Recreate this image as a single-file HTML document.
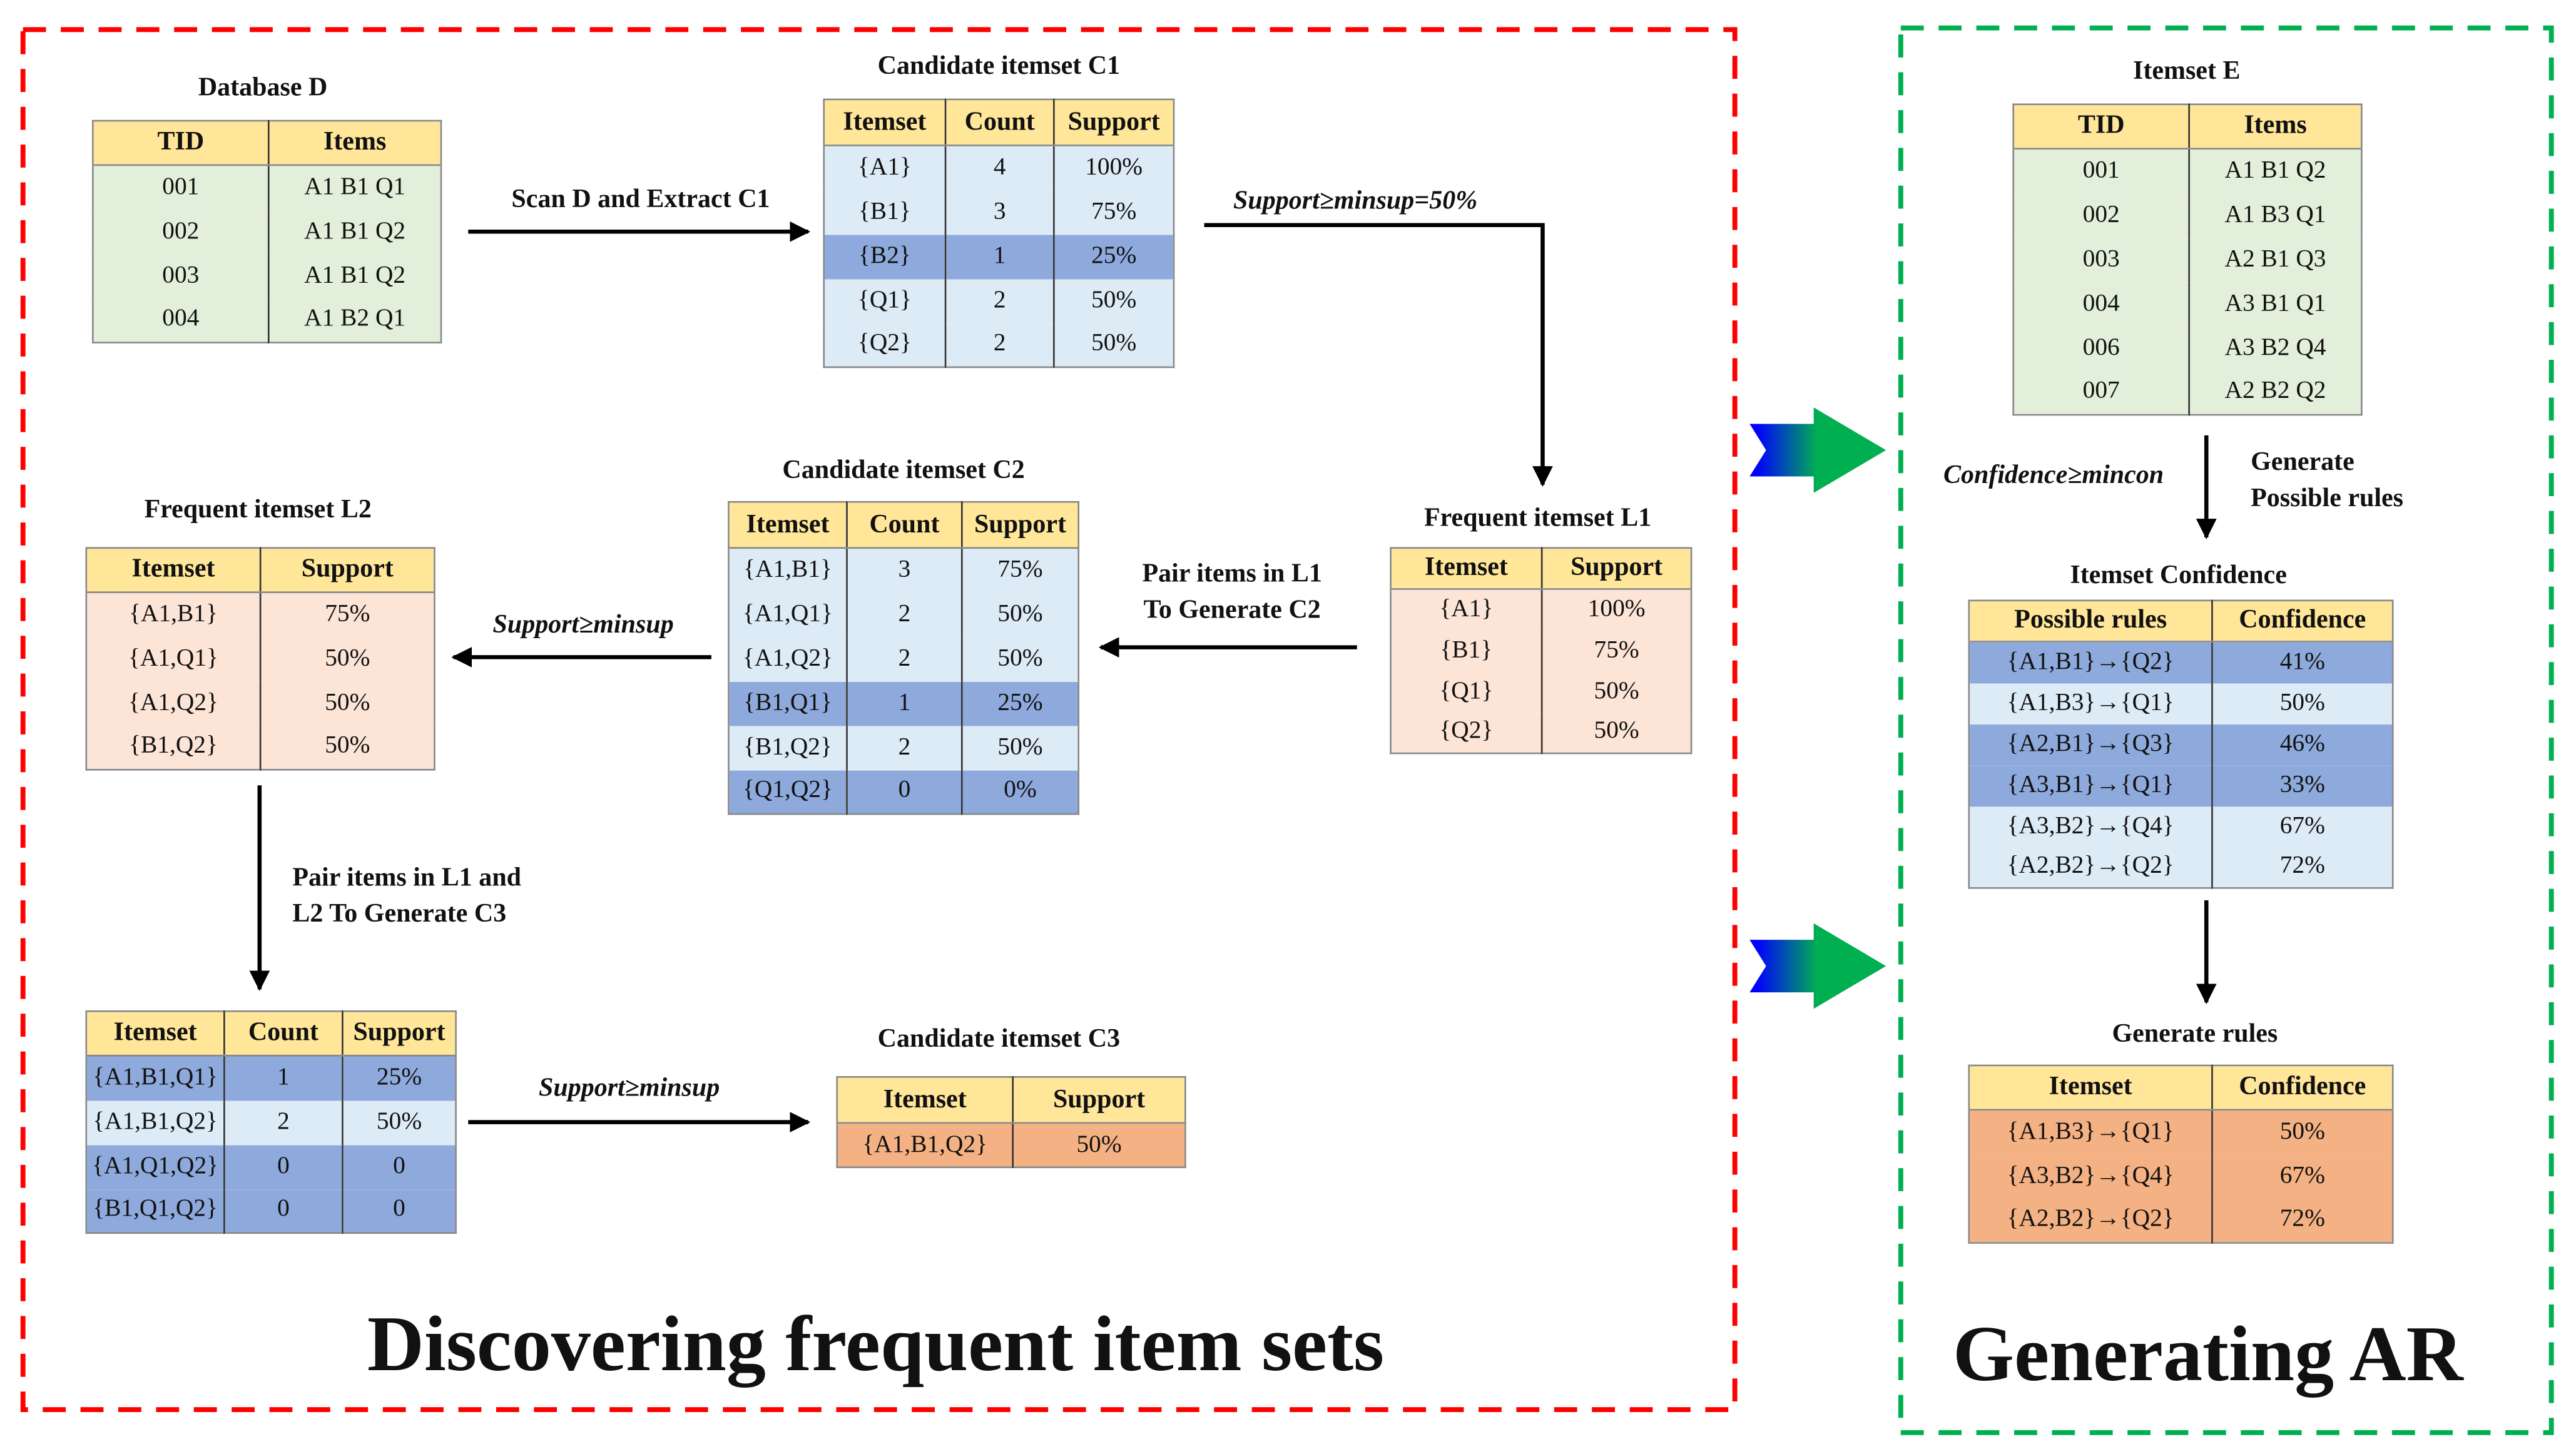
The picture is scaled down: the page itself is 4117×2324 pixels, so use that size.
<!DOCTYPE html>
<html><head><meta charset="utf-8"><style>
html,body{margin:0;padding:0;background:#fff;}
#wrap{position:relative;width:4117px;height:2324px;overflow:hidden;}
#s{position:absolute;left:0;top:0;width:1568px;height:885px;transform:scale(2.62564,2.62599);transform-origin:0 0;font-family:"Liberation Serif",serif;color:#111;}
table{position:absolute;border-collapse:collapse;table-layout:fixed;font-size:15px;border:1.5px solid #888;}
td{text-align:center;padding:0;border-left:1px solid #333;white-space:nowrap;overflow:hidden;}
td:first-child{border-left:none;}
tr.h td{background:#FFE699;font-weight:bold;font-size:16px;border-bottom:1.5px solid #888;}
.g td{background:#E2EFDA}.l td{background:#DDEBF7}.d td{background:#8EA9DB}.p td{background:#FCE4D6}.o td{background:#F4B183}
.t{position:absolute;font-weight:bold;font-size:16px;white-space:nowrap;transform:translate(-50%,2px);}
.i{font-style:italic;}
</style></head><body><div id="wrap"><div id="s">
<svg width="1568" height="885" style="position:absolute;left:0;top:0">
<defs>
<marker id="a" viewBox="0 0 10 10" refX="9" refY="5" markerWidth="5" markerHeight="5" orient="auto"><path d="M0,0L10,5L0,10z" fill="#000"/></marker>
<linearGradient id="gr" x1="0" x2="1" y1="0" y2="0"><stop offset="0.05" stop-color="#0000ff"/><stop offset="0.5" stop-color="#00b050"/></linearGradient>
</defs>
<rect x="14" y="18" width="1042" height="840" fill="none" stroke="#f00" stroke-width="3" stroke-dasharray="14,9"/>
<rect x="1157" y="17" width="396" height="855" fill="none" stroke="#00b050" stroke-width="3" stroke-dasharray="14,9"/>
<g stroke="#000" stroke-width="2.5" fill="none" marker-end="url(#a)">
<line x1="285" y1="141" x2="492" y2="141"/>
<polyline points="733,137 939,137 939,295"/>
<line x1="826" y1="394" x2="670" y2="394"/>
<line x1="433" y1="400" x2="276" y2="400"/>
<line x1="158" y1="478" x2="158" y2="602"/>
<line x1="285" y1="683" x2="492" y2="683"/>
<line x1="1343" y1="265" x2="1343" y2="327"/>
<line x1="1343" y1="548" x2="1343" y2="610"/>
</g>
<polygon points="1065,258 1104,258 1104,248 1148,274 1104,300 1104,290 1065,290 1075,274" fill="url(#gr)"/>
<polygon points="1065,572 1104,572 1104,562 1148,588 1104,614 1104,604 1065,604 1075,588" fill="url(#gr)"/>
</svg>

<div class="t" style="left:160px;top:43px">Database D</div>
<table style="left:56px;top:73px;width:213px"><col style="width:107px"><col>
<tr class="h" style="height:27px"><td>TID</td><td>Items</td></tr>
<tr class="g" style="height:27px"><td>001</td><td>A1 B1 Q1</td></tr>
<tr class="g" style="height:27px"><td>002</td><td>A1 B1 Q2</td></tr>
<tr class="g" style="height:27px"><td>003</td><td>A1 B1 Q2</td></tr>
<tr class="g" style="height:27px"><td>004</td><td>A1 B2 Q1</td></tr></table>

<div class="t" style="left:390px;top:111px">Scan D and Extract C1</div>
<div class="t" style="left:608px;top:30px">Candidate itemset C1</div>
<table style="left:501px;top:60px;width:214px"><col style="width:74px"><col style="width:66px"><col>
<tr class="h" style="height:28px"><td>Itemset</td><td>Count</td><td>Support</td></tr>
<tr class="l" style="height:27px"><td>{A1}</td><td>4</td><td>100%</td></tr>
<tr class="l" style="height:27px"><td>{B1}</td><td>3</td><td>75%</td></tr>
<tr class="d" style="height:27px"><td>{B2}</td><td>1</td><td>25%</td></tr>
<tr class="l" style="height:27px"><td>{Q1}</td><td>2</td><td>50%</td></tr>
<tr class="l" style="height:27px"><td>{Q2}</td><td>2</td><td>50%</td></tr></table>

<div class="t i" style="left:825px;top:112px">Support≥minsup=50%</div>
<div class="t" style="left:936px;top:305px">Frequent itemset L1</div>
<table style="left:846px;top:333px;width:184px"><col style="width:92px"><col>
<tr class="h" style="height:25px"><td>Itemset</td><td>Support</td></tr>
<tr class="p" style="height:25px"><td>{A1}</td><td>100%</td></tr>
<tr class="p" style="height:25px"><td>{B1}</td><td>75%</td></tr>
<tr class="p" style="height:25px"><td>{Q1}</td><td>50%</td></tr>
<tr class="p" style="height:25px"><td>{Q2}</td><td>50%</td></tr></table>

<div class="t" style="left:750px;top:339px">Pair items in L1</div>
<div class="t" style="left:750px;top:361px">To Generate C2</div>
<div class="t" style="left:550px;top:276px">Candidate itemset C2</div>
<table style="left:443px;top:305px;width:214px"><col style="width:72px"><col style="width:70px"><col>
<tr class="h" style="height:28px"><td>Itemset</td><td>Count</td><td>Support</td></tr>
<tr class="l" style="height:27px"><td>{A1,B1}</td><td>3</td><td>75%</td></tr>
<tr class="l" style="height:27px"><td>{A1,Q1}</td><td>2</td><td>50%</td></tr>
<tr class="l" style="height:27px"><td>{A1,Q2}</td><td>2</td><td>50%</td></tr>
<tr class="d" style="height:27px"><td>{B1,Q1}</td><td>1</td><td>25%</td></tr>
<tr class="l" style="height:27px"><td>{B1,Q2}</td><td>2</td><td>50%</td></tr>
<tr class="d" style="height:27px"><td>{Q1,Q2}</td><td>0</td><td>0%</td></tr></table>

<div class="t i" style="left:355px;top:370px">Support≥minsup</div>
<div class="t" style="left:157px;top:300px">Frequent itemset L2</div>
<table style="left:52px;top:333px;width:213px"><col style="width:106px"><col>
<tr class="h" style="height:27px"><td>Itemset</td><td>Support</td></tr>
<tr class="p" style="height:27px"><td>{A1,B1}</td><td>75%</td></tr>
<tr class="p" style="height:27px"><td>{A1,Q1}</td><td>50%</td></tr>
<tr class="p" style="height:27px"><td>{A1,Q2}</td><td>50%</td></tr>
<tr class="p" style="height:27px"><td>{B1,Q2}</td><td>50%</td></tr></table>

<div class="t" style="left:178px;top:524px;transform:translateY(2px)">Pair items in L1 and</div>
<div class="t" style="left:178px;top:546px;transform:translateY(2px)">L2 To Generate C3</div>
<table style="left:52px;top:615px;width:226px"><col style="width:84px"><col style="width:72px"><col>
<tr class="h" style="height:27px"><td>Itemset</td><td>Count</td><td>Support</td></tr>
<tr class="d" style="height:27px"><td>{A1,B1,Q1}</td><td>1</td><td>25%</td></tr>
<tr class="l" style="height:27px"><td>{A1,B1,Q2}</td><td>2</td><td>50%</td></tr>
<tr class="d" style="height:27px"><td>{A1,Q1,Q2}</td><td>0</td><td>0</td></tr>
<tr class="d" style="height:27px"><td>{B1,Q1,Q2}</td><td>0</td><td>0</td></tr></table>

<div class="t i" style="left:383px;top:652px">Support≥minsup</div>
<div class="t" style="left:608px;top:622px">Candidate itemset C3</div>
<table style="left:509px;top:655px;width:213px"><col style="width:107px"><col>
<tr class="h" style="height:28px"><td>Itemset</td><td>Support</td></tr>
<tr class="o" style="height:27px"><td>{A1,B1,Q2}</td><td>50%</td></tr></table>

<div class="t" style="left:1331px;top:33px">Itemset E</div>
<table style="left:1225px;top:63px;width:213px"><col style="width:107px"><col>
<tr class="h" style="height:27px"><td>TID</td><td>Items</td></tr>
<tr class="g" style="height:27px"><td>001</td><td>A1 B1 Q2</td></tr>
<tr class="g" style="height:27px"><td>002</td><td>A1 B3 Q1</td></tr>
<tr class="g" style="height:27px"><td>003</td><td>A2 B1 Q3</td></tr>
<tr class="g" style="height:27px"><td>004</td><td>A3 B1 Q1</td></tr>
<tr class="g" style="height:27px"><td>006</td><td>A3 B2 Q4</td></tr>
<tr class="g" style="height:27px"><td>007</td><td>A2 B2 Q2</td></tr></table>

<div class="t i" style="left:1250px;top:279px">Confidence≥mincon</div>
<div class="t" style="left:1370px;top:271px;transform:translateY(2px)">Generate</div>
<div class="t" style="left:1370px;top:293px;transform:translateY(2px)">Possible rules</div>
<div class="t" style="left:1326px;top:340px">Itemset Confidence</div>
<table style="left:1198px;top:365px;width:259px"><col style="width:148px"><col>
<tr class="h" style="height:25px"><td>Possible rules</td><td>Confidence</td></tr>
<tr class="d" style="height:25px"><td>{A1,B1}→{Q2}</td><td>41%</td></tr>
<tr class="l" style="height:25px"><td>{A1,B3}→{Q1}</td><td>50%</td></tr>
<tr class="d" style="height:25px"><td>{A2,B1}→{Q3}</td><td>46%</td></tr>
<tr class="d" style="height:25px"><td>{A3,B1}→{Q1}</td><td>33%</td></tr>
<tr class="l" style="height:25px"><td>{A3,B2}→{Q4}</td><td>67%</td></tr>
<tr class="l" style="height:25px"><td>{A2,B2}→{Q2}</td><td>72%</td></tr></table>

<div class="t" style="left:1336px;top:619px">Generate rules</div>
<table style="left:1198px;top:648px;width:259px"><col style="width:148px"><col>
<tr class="h" style="height:27px"><td>Itemset</td><td>Confidence</td></tr>
<tr class="o" style="height:27px"><td>{A1,B3}→{Q1}</td><td>50%</td></tr>
<tr class="o" style="height:27px"><td>{A3,B2}→{Q4}</td><td>67%</td></tr>
<tr class="o" style="height:27px"><td>{A2,B2}→{Q2}</td><td>72%</td></tr></table>

<div class="t" style="left:533px;top:789px;font-size:48px">Discovering frequent item sets</div>
<div class="t" style="left:1344px;top:795px;font-size:48px">Generating AR</div>
</div></div></body></html>
